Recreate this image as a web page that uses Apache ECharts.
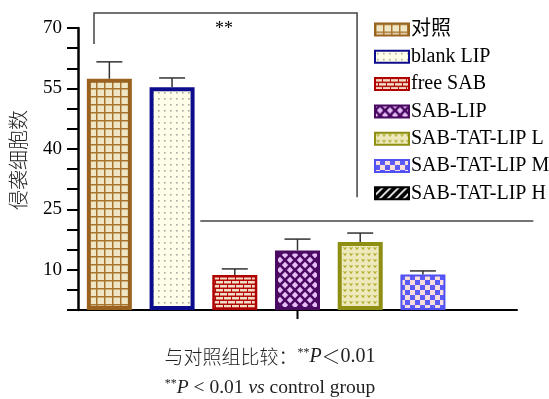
<!DOCTYPE html>
<html>
<head>
<meta charset="utf-8">
<script src="https://cdn.jsdelivr.net/npm/echarts@6/dist/echarts.min.js"></script>
<style>
  html, body { margin: 0; padding: 0; background: #fff; }
  #chart { width: 549px; height: 399px; }
</style>
</head>
<body>
<div id="chart"></div>
<script>
// Groups, means and upper error (SD) for invasive cell counts
const groups = ['对照', 'blank LIP', 'free SAB', 'SAB-LIP', 'SAB-TAT-LIP L', 'SAB-TAT-LIP M', 'SAB-TAT-LIP H'];
const means  = [57.4, 55.3, 8.7, 14.8, 16.9, 8.8, null];
const errors = [4.2, 2.3, 1.5, 2.8, 2.2, 0.9, null];
const yLabelValues = [10, 25, 40, 55, 70];

// Significance bracket (x in category units, y in data units)
const bracketX = [-0.245, 3.95];
const bracketY = [66.0, 73.7, 28.0];   // left foot, top, right foot
const groupLineX = [1.45, 6.76];
const groupLineY = 22.1;
const starPos = [1.83, 69.6];
const starText = '**';
const centerTickIndex = 3;

const SERIF = "'Liberation Serif', 'Times New Roman', 'Noto Sans CJK SC', serif";

function tile(w, h, draw) {
  const c = document.createElement('canvas');
  c.width = w; c.height = h;
  draw(c.getContext('2d'), w, h);
  return { image: c, repeat: 'repeat' };
}

const fills = [
  // grid
  tile(8, 8, (g, w, h) => {
    g.fillStyle = '#efe6c6'; g.fillRect(0, 0, w, h);
    g.fillStyle = '#a8742f'; g.fillRect(0, 0, w, 1.5); g.fillRect(0, 0, 1.5, h);
  }),
  // dots
  tile(6, 6, (g, w, h) => {
    g.fillStyle = '#fffee8'; g.fillRect(0, 0, w, h);
    g.fillStyle = '#a9a9a0'; g.fillRect(2, 2, 1.6, 1.6);
  }),
  // bricks
  tile(8, 8, (g, w, h) => {
    g.fillStyle = '#b00a0a'; g.fillRect(0, 0, w, h);
    g.fillStyle = '#f3dcc4';
    g.fillRect(0, 1, 7, 2.5);
    g.fillRect(4, 5, 7, 2.5); g.fillRect(-4, 5, 7, 2.5);
  }),
  // diamonds
  tile(10, 10, (g, w, h) => {
    g.fillStyle = '#4a0a62'; g.fillRect(0, 0, w, h);
    g.fillStyle = '#e7bdf7';
    const d = (cx, cy, r) => { g.beginPath(); g.moveTo(cx, cy - r); g.lineTo(cx + r, cy); g.lineTo(cx, cy + r); g.lineTo(cx - r, cy); g.closePath(); g.fill(); };
    d(5, 5, 3.2); d(0, 0, 3.2); d(10, 0, 3.2); d(0, 10, 3.2); d(10, 10, 3.2);
  }),
  // small hearts
  tile(6, 6, (g, w, h) => {
    g.fillStyle = '#ede9bc'; g.fillRect(0, 0, w, h);
    g.fillStyle = '#b3b034';
    g.beginPath(); g.moveTo(1, 1.5); g.lineTo(3, 4.2); g.lineTo(5, 1.5); g.lineTo(4, 1); g.lineTo(3, 2); g.lineTo(2, 1); g.closePath(); g.fill();
  }),
  // checker
  tile(10, 10, (g, w, h) => {
    g.fillStyle = '#5a5af6'; g.fillRect(0, 0, w, h);
    g.fillStyle = '#f9dcdc'; g.fillRect(0, 0, 5, 5); g.fillRect(5, 5, 5, 5);
  }),
  // diagonal stripes
  tile(8, 8, (g, w, h) => {
    g.fillStyle = '#000'; g.fillRect(0, 0, w, h);
    g.strokeStyle = '#fff'; g.lineWidth = 1.6;
    g.beginPath(); g.moveTo(0, 8); g.lineTo(8, 0); g.moveTo(-2, 2); g.lineTo(2, -2); g.moveTo(6, 10); g.lineTo(10, 6); g.stroke();
  })
];
const borders = ['#9a621f', '#0c0c8c', '#b00000', '#4a0a62', '#8e8e12', '#5050f2', '#000000'];
const borderWidths = [4, 4, 2.5, 3, 4, 2, 2];

const chart = echarts.init(document.getElementById('chart'), null, { renderer: 'canvas' });

const barSeries = groups.map((name, i) => ({
  name,
  type: 'bar',
  xAxisIndex: 0,
  barWidth: 45,
  barGap: '-100%',
  data: groups.map((_, j) => (j === i && means[j] != null ? means[j] : '-')),
  itemStyle: { color: fills[i], borderColor: borders[i], borderWidth: borderWidths[i] },
  emphasis: { disabled: true },
  z: 2
}));

const errorSeries = {
  type: 'custom',
  xAxisIndex: 0,
  silent: true,
  z: 3,
  data: means.map((m, i) => (m == null ? null : [i, m, m + errors[i]])).filter(d => d),
  renderItem(params, api) {
    const base = api.coord([api.value(0), api.value(1)]);
    const top = api.coord([api.value(0), api.value(2)]);
    const half = 13;
    return {
      type: 'group',
      children: [
        { type: 'line', shape: { x1: base[0], y1: base[1], x2: top[0], y2: top[1] }, style: { stroke: '#333', lineWidth: 1.5 } },
        { type: 'line', shape: { x1: top[0] - half, y1: top[1], x2: top[0] + half, y2: top[1] }, style: { stroke: '#333', lineWidth: 1.5 } }
      ]
    };
  }
};

const bracketSeries = {
  type: 'custom',
  xAxisIndex: 1,
  silent: true,
  clip: false,
  z: 4,
  data: [[0, 0]],
  renderItem(params, api) {
    const p1 = api.coord([bracketX[0], bracketY[0]]);
    const p2 = api.coord([bracketX[0], bracketY[1]]);
    const p3 = api.coord([bracketX[1], bracketY[1]]);
    const p4 = api.coord([bracketX[1], bracketY[2]]);
    const g1 = api.coord([groupLineX[0], groupLineY]);
    const g2 = api.coord([groupLineX[1], groupLineY]);
    const s = api.coord(starPos);
    const t = api.coord([centerTickIndex, 0]);
    return {
      type: 'group',
      children: [
        { type: 'polyline', shape: { points: [p1, p2, p3, p4] }, style: { stroke: '#444', lineWidth: 1.5, fill: null } },
        { type: 'line', shape: { x1: g1[0], y1: g1[1], x2: g2[0], y2: g2[1] }, style: { stroke: '#444', lineWidth: 1.5 } },
        { type: 'line', shape: { x1: t[0], y1: t[1], x2: t[0], y2: t[1] + 9 }, style: { stroke: '#000', lineWidth: 2 } },
        { type: 'text', x: s[0], y: s[1], style: { text: starText, font: '18px ' + SERIF, fill: '#000', align: 'center', verticalAlign: 'middle' } }
      ]
    };
  }
};

chart.setOption({
  animation: false,
  backgroundColor: '#fff',
  grid: { left: 78, right: 32, top: 28, bottom: 89, containLabel: false },
  legend: {
    orient: 'vertical',
    left: 374,
    top: 19.5,
    padding: 0,
    itemWidth: 34,
    itemHeight: 12,
    itemGap: 7.3,
    icon: 'rect',
    selectedMode: false,
    textStyle: { fontFamily: SERIF, fontSize: 20, color: '#000', lineHeight: 20, padding: [0, 0, 0, -3] },
    data: groups
  },
  xAxis: [
    {
      type: 'category',
      data: groups,
      axisLine: { onZero: false, lineStyle: { color: '#000', width: 2 } },
      axisTick: { show: false },
      axisLabel: { show: false },
      splitLine: { show: false }
    },
    { type: 'value', min: -0.5, max: 6.5, show: false }
  ],
  yAxis: {
    type: 'value',
    min: 0,
    max: 70,
    interval: 5,
    axisLine: { show: true, onZero: false, lineStyle: { color: '#000', width: 2.5 } },
    axisTick: { show: true, length: 11, lineStyle: { color: '#000', width: 2 } },
    axisLabel: {
      margin: 16,
      fontFamily: SERIF,
      fontSize: 19,
      color: '#000',
      formatter: (v) => (yLabelValues.indexOf(v) >= 0 ? String(v) : '')
    },
    splitLine: { show: false }
  },
  graphic: [
    {
      type: 'text', x: 18, y: 160, rotation: Math.PI / 2,
      style: {
        text: '侵袭细胞数',
        fontFamily: "'Noto Sans CJK SC', sans-serif",
        fontSize: 20,
        fontWeight: 300,
        fill: '#222', align: 'center', verticalAlign: 'middle'
      }
    },
    {
      type: 'text', x: 270, y: 357,
      style: {
        text: '{n|与对照组比较：}{s|**}{i|P}{n|＜}{d|0.01}',
        align: 'center', verticalAlign: 'middle',
        rich: {
          n: { fontFamily: "'Noto Sans CJK SC', " + SERIF, fontSize: 19, fontWeight: 300, fill: '#222' },
          d: { fontFamily: SERIF, fontSize: 20, fill: '#222' },
          s: { fontFamily: SERIF, fontSize: 12, fill: '#222', verticalAlign: 'top', padding: [0, 0, 9, 0] },
          i: { fontFamily: SERIF, fontSize: 20, fontStyle: 'italic', fill: '#222' }
        }
      }
    },
    {
      type: 'text', x: 270, y: 388,
      style: {
        text: '{s|**}{i|P}{n| < 0.01 }{i|vs}{n| control group}',
        align: 'center', verticalAlign: 'middle',
        rich: {
          n: { fontFamily: SERIF, fontSize: 19.5, fill: '#222' },
          s: { fontFamily: SERIF, fontSize: 12, fill: '#222', verticalAlign: 'top', padding: [0, 0, 9, 0] },
          i: { fontFamily: SERIF, fontSize: 19.5, fontStyle: 'italic', fill: '#222' }
        }
      }
    }
  ],
  series: [...barSeries, errorSeries, bracketSeries]
});
</script>
</body>
</html>
